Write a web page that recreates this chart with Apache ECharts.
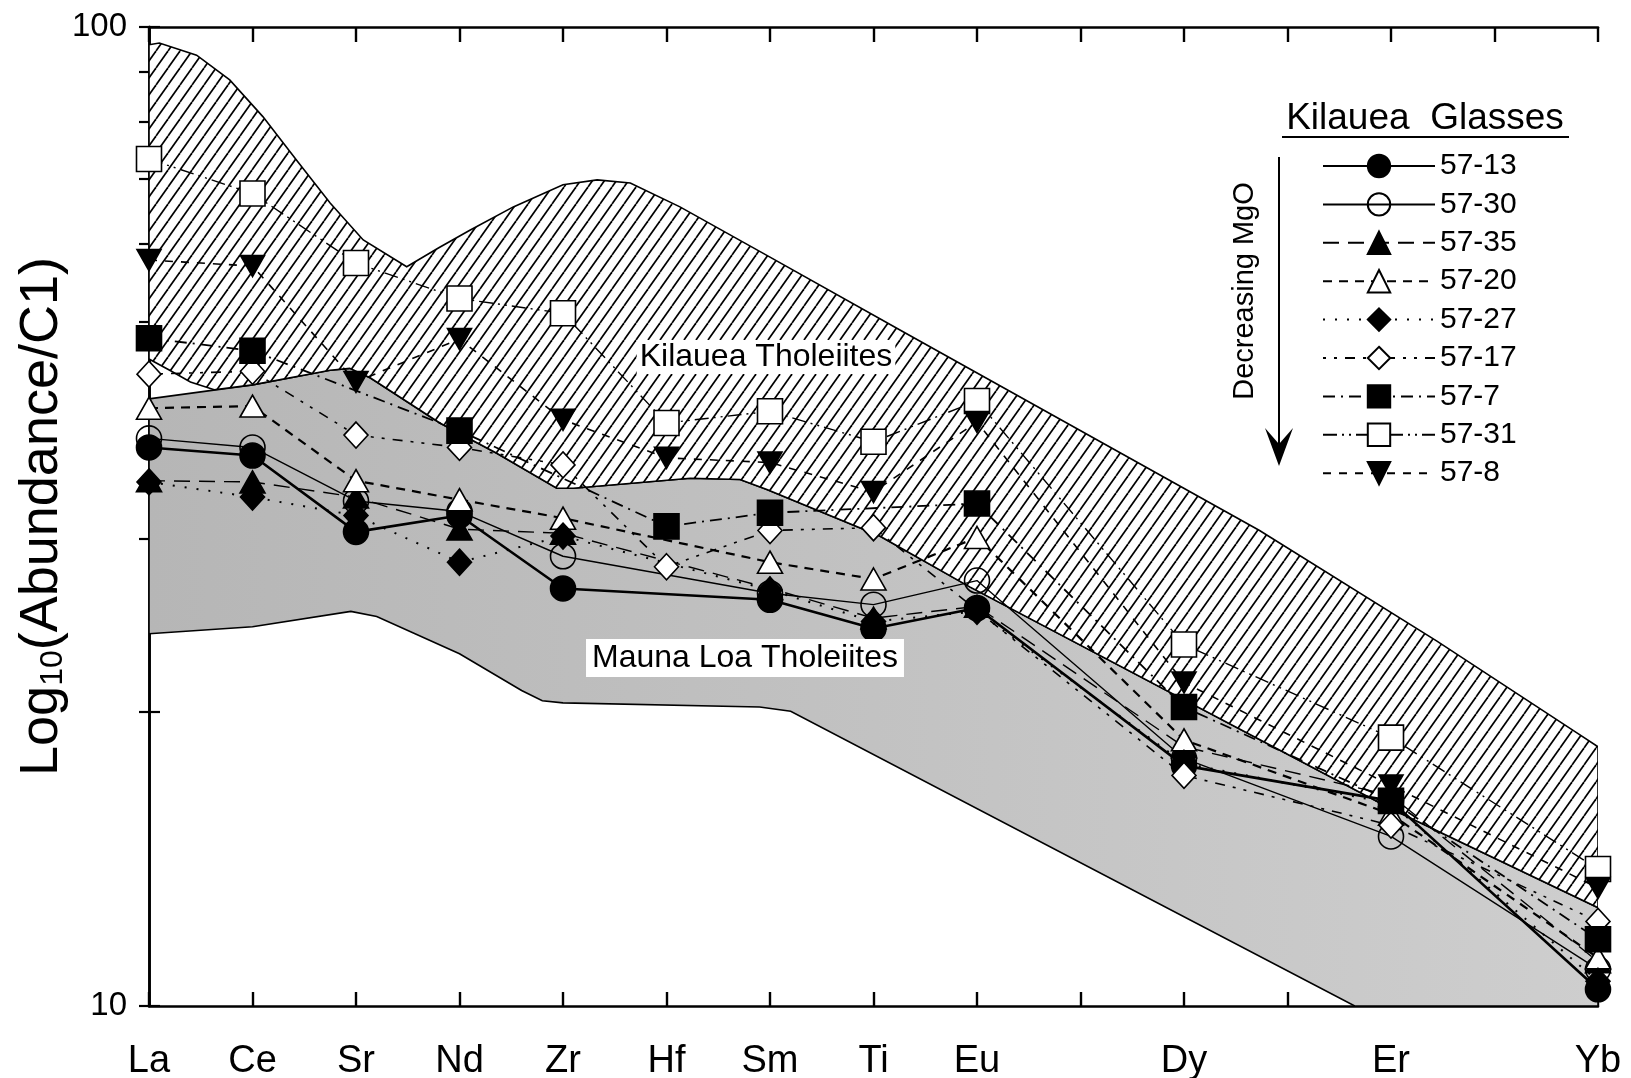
<!DOCTYPE html>
<html><head><meta charset="utf-8">
<script src="https://cdn.jsdelivr.net/npm/echarts@6/dist/echarts.min.js"></script>
<style>html,body{margin:0;padding:0;background:#fff}#c{width:1631px;height:1078px}</style>
</head><body><div id="c"></div>
<script>
// ---------- data ----------
const elements   = ['La','Ce','Sr','Nd','Zr','Hf','Sm','Ti','Eu','Dy','Er','Yb'];
const elementPos = [0, 1, 2, 3, 4, 5, 6, 7, 8, 10, 12, 14];
const yTickValues = [10,20,30,40,50,60,70,80,90,100];
const yLabelValues = [10,100];

const s57_13 = [37.2, 36.5, 30.5, 31.7, 26.7, null, 26.0, 24.3, 25.5, 17.6, 16.2, 10.4];
const s57_30 = [38.0, 37.2, 32.8, 32.0, 28.8, null, 26.4, 25.7, 27.2, 17.9, 14.9, 10.9];
const s57_35 = [34.4, 34.3, 33.1, 30.7, 30.4, null, 26.7, 24.9, 25.6, 18.4, 16.4, 11.1];
const s57_20 = [40.8, 41.0, 34.4, 32.9, 31.5, null, 28.4, 27.3, 30.1, 18.7, 15.7, 11.2];
const s57_27 = [34.3, 33.1, 31.7, 28.4, 30.2, null, 26.6, 24.7, 25.3, 17.7, 16.1, 10.6];
const s57_17 = [44.2, 44.5, 38.3, 37.2, 35.7, 28.1, 30.6, 30.8, null, 17.2, 15.3, 12.2];
const s57_7  = [48.1, 46.7, null, 38.7, null, 30.9, 31.9, null, 32.6, 20.2, 16.2, 11.7];
const s57_31 = [73.3, 67.6, 57.4, 52.8, 51.0, 39.4, 40.5, 37.7, 41.5, 23.4, 18.8, 13.8];
const s57_8  = [57.8, 57.0, 43.4, 48.0, 39.7, 36.3, 35.9, 33.5, 39.5, 21.4, 16.8, 13.2];

// field boundaries: [position on element axis, abundance]
const kilaueaUpper = [[0,95.9],[0.1,96.3],[0.46,93.6],[0.78,88.3],[1.1,81.0],[1.43,73.0],[1.75,66.1],[2.07,60.6],[2.49,56.9],[2.8,59.5],[3.1,62.0],[3.52,65.5],[4.0,69.0],[4.33,69.8],[4.65,69.3],[5.13,65.5],[6.0,58.2],[7.26,49.0],[10.73,30.6],[12.44,23.6],[13.8,19.0],[14,18.4]];
const kilaueaLowerLeft = [[0,45.8],[0.2,44.6],[0.4,43.4],[0.63,42.6]];
const maunaLoaUpper = [[0,41.7],[1,43.1],[1.75,44.6],[1.94,44.8],[2.14,43.8],[2.81,39.4],[3.36,36.7],[3.94,33.8],[4.1,33.8],[5.23,34.6],[5.71,34.5],[5.97,33.7],[7.06,30.2],[7.93,26.8],[12.0,15.9],[14,12.6]];
const maunaLoaLower = [[0,24.0],[1,24.4],[1.95,25.3],[2.2,25.0],[3.0,22.9],[3.6,21.0],[3.8,20.5],[4.0,20.4],[5.9,20.2],[6.2,20.0],[11.65,10],[14,10]];

// ---------- styling ----------
const FONT = "'Liberation Sans', Arial, Helvetica, sans-serif";
const seriesDefs = [
  {name:'57-13', data:s57_13, symbol:'circle',  size:25, fill:'#000', lw:2.6, dash:'solid'},
  {name:'57-30', data:s57_30, symbol:'circle',  size:25, fill:'rgba(0,0,0,0)', lw:1.4, dash:'solid'},
  {name:'57-35', data:s57_35, symbol:'triangle',size:[25,22], fill:'#000', lw:1.4, dash:[16,9]},
  {name:'57-20', data:s57_20, symbol:'triangle',size:[25,22], fill:'#fff', lw:2.2, dash:[9,7]},
  {name:'57-27', data:s57_27, symbol:'diamond', size:[24,26], fill:'#000', lw:2, dash:[2,10]},
  {name:'57-17', data:s57_17, symbol:'diamond', size:[24,26], fill:'#fff', lw:1.6, dash:[3,8,3,8,10,8]},
  {name:'57-7',  data:s57_7,  symbol:'rect',    size:25, fill:'#000', lw:1.8, dash:[12,6,2,6]},
  {name:'57-31', data:s57_31, symbol:'rect',    size:25, fill:'#fff', lw:1.4, dash:[14,5,2,5,2,5]},
  {name:'57-8',  data:s57_8,  symbol:'triangle',size:[24,21], fill:'#000', lw:1.6, dash:[8,8], rot:180}
];

function toPairs(vals){
  const out=[];
  vals.forEach((v,i)=>{ if(v!=null) out.push([elementPos[i], v]); });
  return out;
}

function hatchCanvas(){
  const w=12,h=17;
  const c=document.createElement('canvas'); c.width=w; c.height=h;
  const g=c.getContext('2d');
  g.fillStyle='#fff'; g.fillRect(0,0,w,h);
  g.strokeStyle='#000'; g.lineWidth=1.7;
  [-w,0,w].forEach(dx=>{ g.beginPath(); g.moveTo(dx,h); g.lineTo(dx+w,0); g.stroke(); });
  return c;
}

function band(upper, lower, fill, z){
  return {
    type:'custom', coordinateSystem:'cartesian2d', silent:true, z:z, clip:true,
    data:[[0,50]],
    renderItem:(params, api)=>{
      const pts = upper.map(p=>api.coord(p)).concat(lower.slice().reverse().map(p=>api.coord(p)));
      return {type:'polygon', shape:{points:pts}, style:{fill:fill, stroke:'#000', lineWidth:1.6}};
    }
  };
}

const tickLabelAt = {};
elements.forEach((e,i)=>{ tickLabelAt[elementPos[i]] = e; });

const kilaueaLower = kilaueaLowerLeft.concat(maunaLoaUpper.filter(p=>p[0]>0.63));
const grayFill = new echarts.graphic.LinearGradient(0,0,1,0,[{offset:0,color:'#b6b6b6'},{offset:1,color:'#cecece'}]);

const chart = echarts.init(document.getElementById('c'), null, {renderer:'canvas'});

const lineSeries = seriesDefs.map((d,k)=>({
  type:'line', name:d.name, data:toPairs(d.data),
  symbol:d.symbol, symbolSize:d.size, symbolRotate:d.rot||0,
  showAllSymbol:true, z:5+k,
  lineStyle:{color:'#000', width:d.lw, type:d.dash},
  itemStyle:{color:d.fill, borderColor:'#000', borderWidth:1.6},
  emphasis:{disabled:true}
}));

const xBase = {
  type:'value', min:0, max:14, interval:1, gridIndex:0,
  axisLine:{show:true, lineStyle:{color:'#000', width:2.6}},
  splitLine:{show:false}
};
const yBase = {
  type:'log', logBase:10, min:10, max:100,
  axisLine:{show:true, lineStyle:{color:'#000', width:2.6}},
  splitLine:{show:false}, minorTick:{show:false}
};

chart.setOption({
  animation:false,
  backgroundColor:'#fff',
  grid:{left:149, right:33, top:27, bottom:72, containLabel:false, outerBoundsMode:'none'},
  xAxis:[
    Object.assign({}, xBase, {position:'bottom',
      axisTick:{show:true, inside:true, length:14, lineStyle:{color:'#000', width:2.4}},
      axisLabel:{show:true, margin:37, color:'#000', fontSize:38, fontFamily:FONT,
        formatter:v=>tickLabelAt[v]||''}}),
    Object.assign({}, xBase, {position:'top',
      axisTick:{show:true, inside:true, length:15, lineStyle:{color:'#000', width:2.4}},
      axisLabel:{show:false}})
  ],
  yAxis:[
    Object.assign({}, yBase, {position:'left',
      axisTick:{show:true, inside:true, length:11, customValues:yTickValues, lineStyle:{color:'#000', width:2.2}},
      axisLabel:{show:true, margin:22, color:'#000', fontSize:33, fontFamily:FONT, customValues:yLabelValues},
      name:'{a|Log}{b|10}{a|(Abundance/C1)}', nameLocation:'middle', nameRotate:90, nameGap:80,
      nameMoveOverlap:false,
      nameTextStyle:{color:'#000', fontFamily:FONT, rich:{
        a:{fontSize:54, fontFamily:FONT, color:'#000'},
        b:{fontSize:32, fontFamily:FONT, color:'#000', padding:[22,0,0,0]}
      }}}),
    Object.assign({}, yBase, {position:'right',
      axisTick:{show:true, inside:true, length:10, customValues:yTickValues, lineStyle:{color:'#000', width:2.2}},
      axisLabel:{show:false}})
  ],
  legend:{
    orient:'vertical', left:1317, top:146, itemWidth:112, itemHeight:28, itemGap:8.4,
    selectedMode:false,
    textStyle:{color:'#000', fontSize:30, fontFamily:FONT},
    data:seriesDefs.map(d=>d.name)
  },
  graphic:[
    {type:'text', z:100, style:{text:'Kilauea  Glasses', x:1425, y:119, font:'37px '+FONT, fill:'#000', align:'center', verticalAlign:'middle', textAlign:'center', textVerticalAlign:'middle'}},
    {type:'line', z:100, shape:{x1:1282, y1:137, x2:1569, y2:137}, style:{stroke:'#000', lineWidth:2.2}},
    {type:'line', z:100, shape:{x1:1279, y1:157, x2:1279, y2:450}, style:{stroke:'#000', lineWidth:2}},
    {type:'polygon', z:100, shape:{points:[[1265,428],[1279,466],[1293,428],[1279,444]]}, style:{fill:'#000'}},
    {type:'text', z:100, rotation:Math.PI/2, x:1245, y:291, style:{text:'Decreasing MgO', x:0, y:0, font:'29px '+FONT, fill:'#000', align:'center', verticalAlign:'middle', textAlign:'center', textVerticalAlign:'middle'}},
    {type:'text', z:100, style:{text:'Kilauea Tholeiites', x:766, y:357, font:'32px '+FONT, fill:'#000', align:'center', verticalAlign:'middle', textAlign:'center', textVerticalAlign:'middle', backgroundColor:'#fff', padding:[1,3]}},
    {type:'text', z:100, style:{text:'Mauna Loa Tholeiites', x:745, y:658, font:'32px '+FONT, fill:'#000', align:'center', verticalAlign:'middle', textAlign:'center', textVerticalAlign:'middle', backgroundColor:'#fff', padding:[3,6]}}
  ],
  series:[
    band(maunaLoaUpper, maunaLoaLower, grayFill, 1),
    band(kilaueaUpper, kilaueaLower, {image:hatchCanvas(), repeat:'repeat'}, 2)
  ].concat(lineSeries)
});
</script></body></html>
